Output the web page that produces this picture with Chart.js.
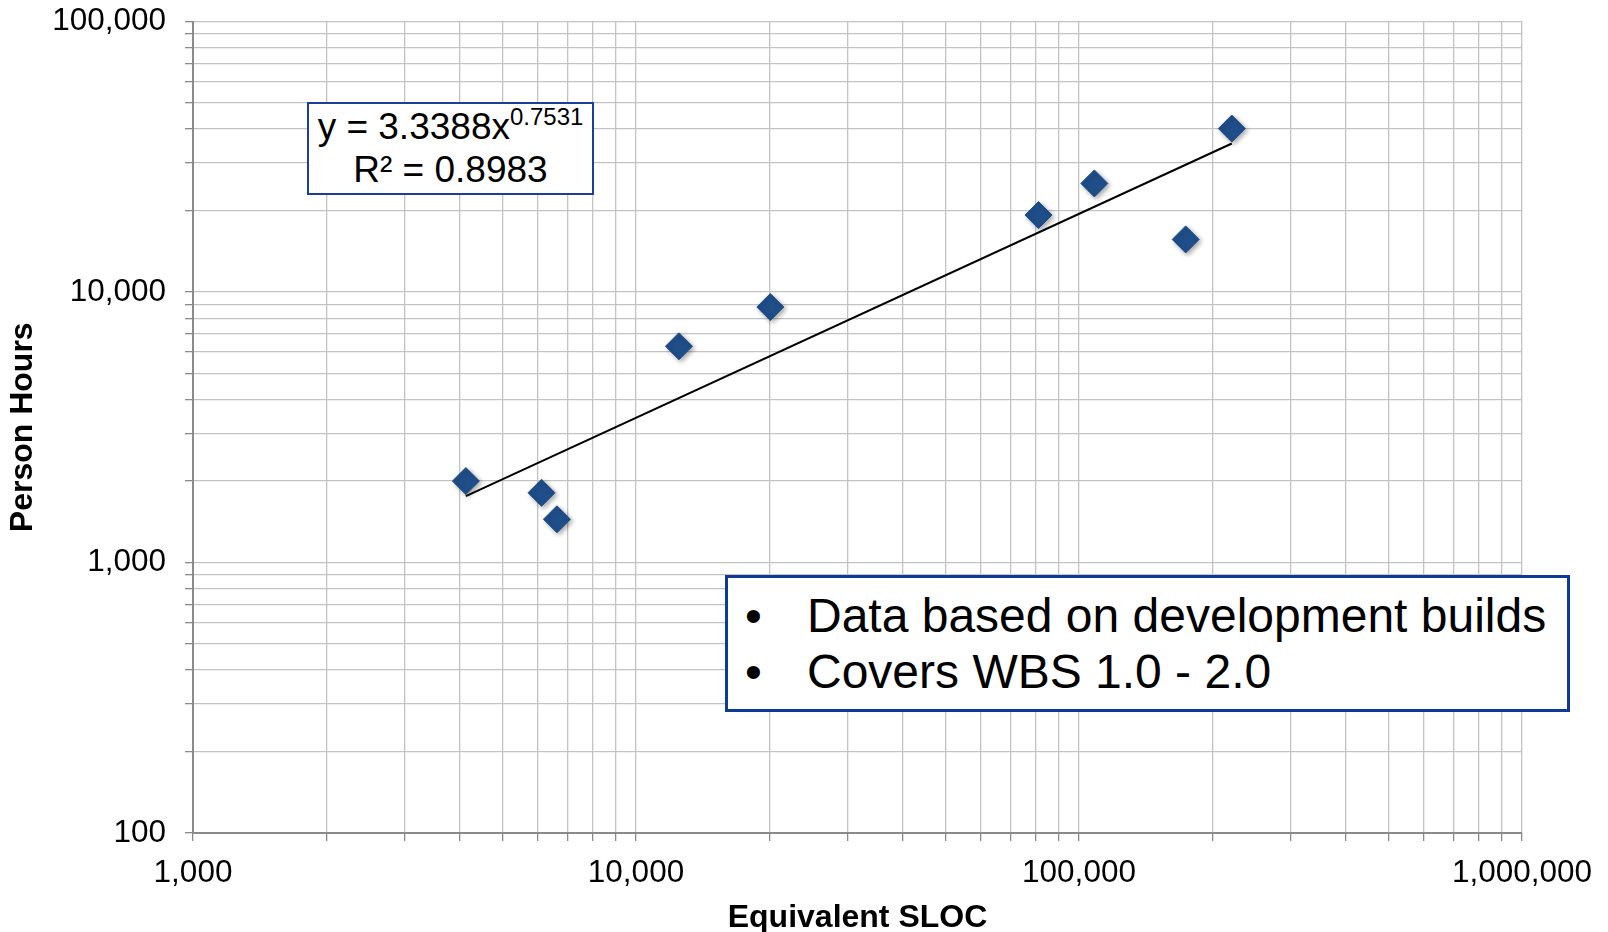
<!DOCTYPE html>
<html>
<head>
<meta charset="utf-8">
<script src="https://cdn.jsdelivr.net/npm/chart.js@4/dist/chart.umd.min.js"></script>
<style>
  body { margin: 0; background: #fff; }
  #wrap { position: relative; width: 1608px; height: 932px; font-family: "Liberation Sans", Arial, sans-serif; }
  #myChart { position: absolute; left: 0; top: 0; }
  .eq {
    position: absolute; left: 307px; top: 102px; width: 287px; height: 93px;
    box-sizing: border-box; border: 2.5px solid #1b3f98; background: #fff;
    font-size: 37px; line-height: 43px; text-align: center; padding-top: 1px; color: #000;
  }
  .eq sup { font-size: 24px; line-height: 0; vertical-align: 14px; }
  .note {
    position: absolute; left: 725px; top: 575px; width: 845px; height: 137px;
    box-sizing: border-box; border: 3.5px solid #0e3a98; background: #fff;
    font-size: 48px; line-height: 56px; padding-top: 10px; color: #000;
  }
  .note div { position: relative; padding-left: 79px; white-space: nowrap; }
  .note span { position: absolute; left: 17px; }
</style>
</head>
<body>
<div id="wrap">
  <canvas id="myChart" width="1608" height="932"></canvas>
  <div class="eq">y = 3.3388x<sup>0.7531</sup><br>R² = 0.8983</div>
  <div class="note">
    <div><span>•</span>Data based on development builds</div>
    <div><span>•</span>Covers WBS 1.0 - 2.0</div>
  </div>
</div>
<script>
const sloc = [4130, 6120, 6630, 12500, 20100, 81000, 108300, 174100, 221300];
const hours = [2000, 1810, 1445, 6300, 8800, 19250, 25200, 15650, 40200];
// power trendline end points (straight on log-log axes)
const trendX = [4130, 221300];
const trendY = [1760, 35400];
// axis decades
const xDecades = [1000, 10000, 100000, 1000000];
const yDecades = [100, 1000, 10000, 100000];

const logTicks = (decades) => {
  const out = [];
  for (let i = 0; i < decades.length - 1; i++) {
    for (let m = 1; m < 10; m++) out.push({ value: decades[i] * m });
  }
  out.push({ value: decades[decades.length - 1] });
  return out;
};

const majorLabel = (v) => {
  const l = Math.log10(v);
  return Math.abs(l - Math.round(l)) < 1e-9 ? v.toLocaleString("en-US") : "";
};

const shadow = {
  id: "shadow",
  beforeDatasetDraw(chart, args) {
    if (args.index !== 1) return;
    const c = chart.ctx;
    c.save();
    c.shadowColor = "rgba(0, 0, 0, 0.35)";
    c.shadowBlur = 5;
    c.shadowOffsetX = 2;
    c.shadowOffsetY = 2;
  },
  afterDatasetDraw(chart, args) {
    if (args.index !== 1) return;
    chart.ctx.restore();
  },
};

const tickFont = { family: "'Liberation Sans', Arial, sans-serif", size: 31.5 };
const titleFont = { family: "'Liberation Sans', Arial, sans-serif", size: 32, weight: "bold", lineHeight: 0.85 };

const ctx = document.getElementById("myChart").getContext("2d");
const myChart = new Chart(ctx, {
  type: "scatter",
  data: {
    datasets: [
      {
        type: "line",
        label: "Trend",
        data: trendX.map((x, i) => ({ x, y: trendY[i] })),
        borderColor: "#000",
        borderWidth: 2,
        pointRadius: 0,
        fill: false,
      },
      {
        label: "Person Hours",
        data: sloc.map((x, i) => ({ x, y: hours[i] })),
        pointStyle: "rectRot",
        pointRadius: 13.5,
        pointHoverRadius: 13.5,
        backgroundColor: "#1f4e89",
        borderColor: "#1f4e89",
        borderWidth: 1,
      },
    ],
  },
  plugins: [shadow],
  options: {
    responsive: false,
    animation: false,
    layout: { padding: { top: 21.5, right: 86, bottom: 0, left: 0 } },
    plugins: { legend: { display: false }, tooltip: { enabled: false } },
    scales: {
      x: {
        type: "logarithmic",
        min: xDecades[0],
        max: xDecades[xDecades.length - 1],
        afterBuildTicks: (s) => { s.ticks = logTicks(xDecades); },
        afterFit: (s) => { s.height = 99; s.paddingLeft = 0; s.paddingRight = 0; },
        grid: { color: "#c3c3c3", lineWidth: 1.3, tickColor: "#8a8a8a", tickLength: 8 },
        border: { color: "#8a8a8a", width: 2 },
        ticks: { autoSkip: false, maxRotation: 0, padding: 13, color: "#000", font: tickFont, callback: (v) => majorLabel(v) },
        title: { display: true, text: "Equivalent SLOC", color: "#000", font: titleFont, padding: { top: 0, bottom: 0 } },
      },
      y: {
        type: "logarithmic",
        min: yDecades[0],
        max: yDecades[yDecades.length - 1],
        afterBuildTicks: (s) => { s.ticks = logTicks(yDecades); },
        afterFit: (s) => { s.width = 193; s.paddingTop = 0; s.paddingBottom = 0; },
        grid: { color: "#c3c3c3", lineWidth: 1.3, tickColor: "#8a8a8a", tickLength: 8 },
        border: { color: "#8a8a8a", width: 2 },
        ticks: { autoSkip: false, padding: 19, color: "#000", font: tickFont, callback: (v) => majorLabel(v) },
        title: { display: true, text: "Person Hours", color: "#000", font: titleFont, padding: { top: 10, bottom: 0 } },
      },
    },
  },
});
</script>
</body>
</html>
